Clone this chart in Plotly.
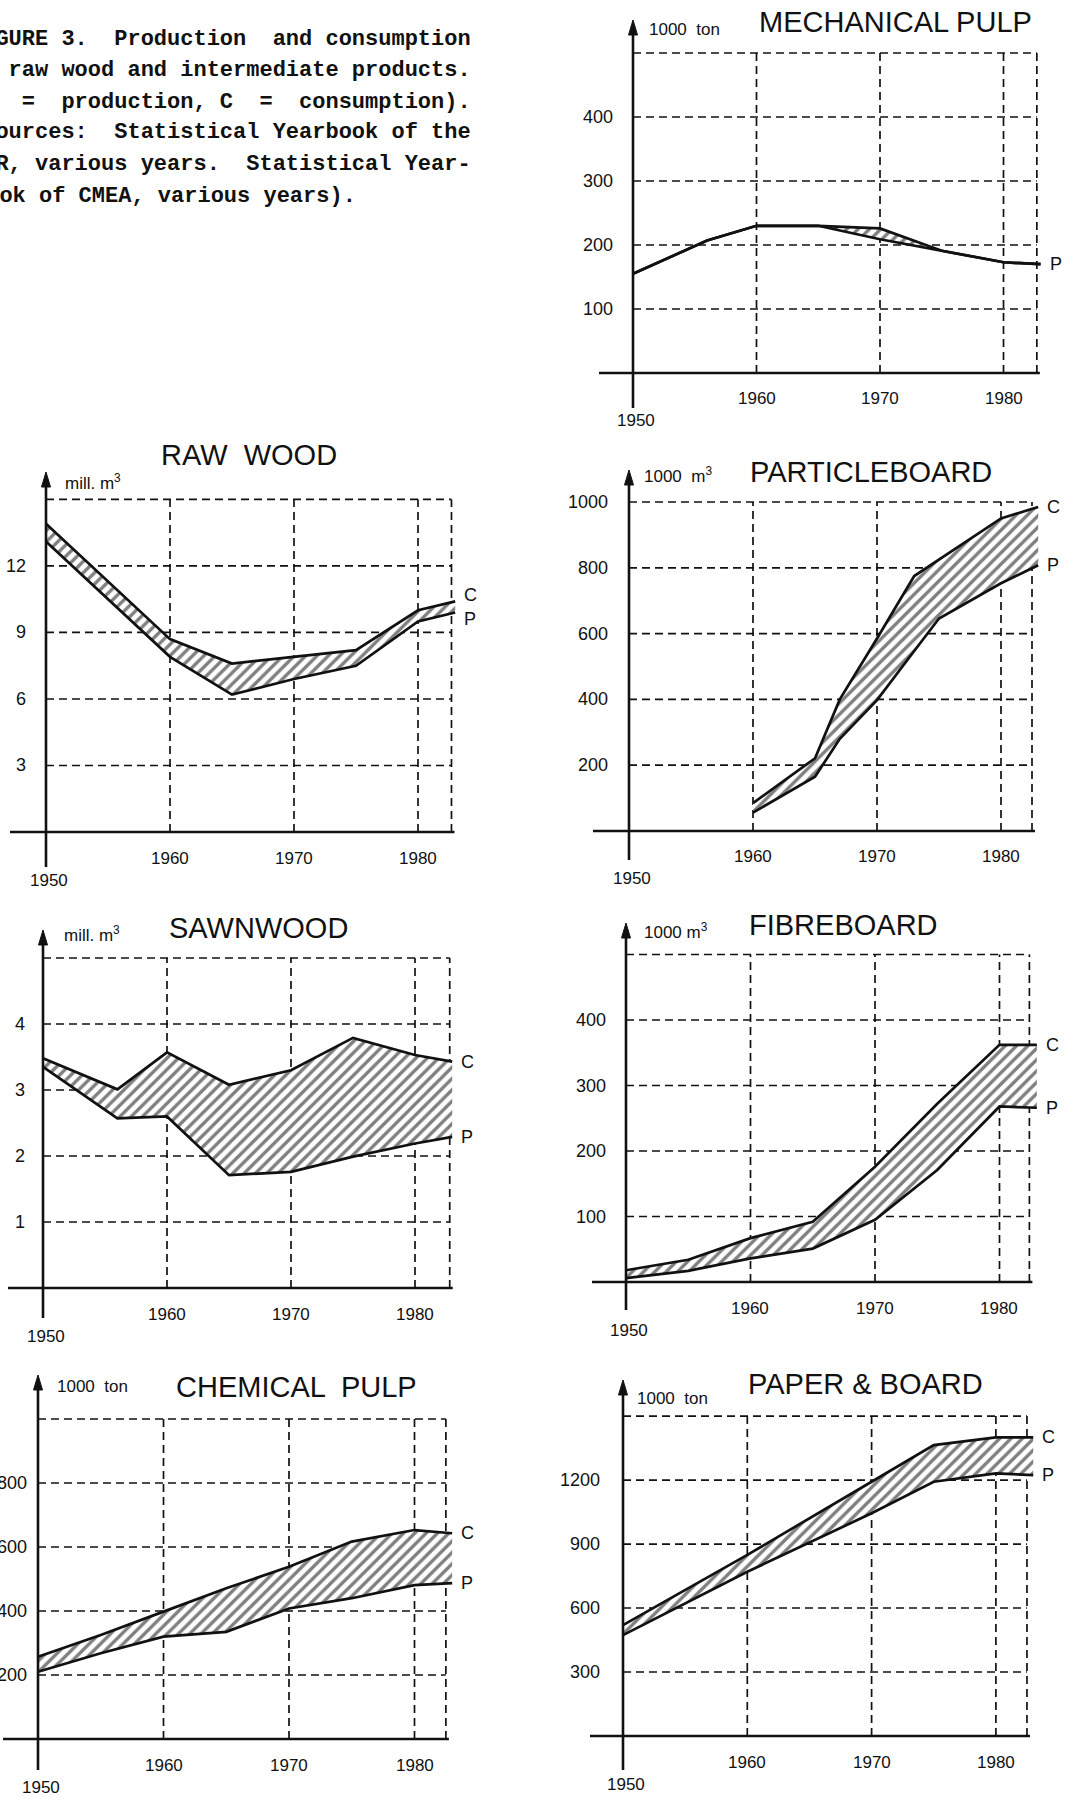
import plotly.graph_objects as go

W, H = 1081, 1798

# ---------------- data ----------------
MECH_YEARS = [1950, 1956, 1960, 1965, 1970, 1975, 1980, 1983]
MECH_P = [155, 207, 230, 230, 226, 191, 173, 170]
MECH_C = [155, 207, 230, 230, 209, 191, 173, 170]
MECH_YTICKS = [100, 200, 300, 400]

RAW_YEARS = [1950, 1960, 1965, 1970, 1975, 1980, 1983]
RAW_C = [13.9, 8.7, 7.6, 7.9, 8.2, 10.0, 10.4]
RAW_P = [13.1, 7.9, 6.2, 6.9, 7.5, 9.5, 9.9]
RAW_YTICKS = [3, 6, 9, 12]

PB_YEARS = [1960, 1965, 1967, 1970, 1973, 1975, 1980, 1983]
PB_C = [85, 221, 400, 585, 775, 825, 950, 985]
PB_P = [56, 165, 280, 398, 547, 646, 753, 808]
PB_YTICKS = [200, 400, 600, 800, 1000]

SAW_YEARS = [1950, 1956, 1960, 1965, 1970, 1975, 1980, 1983]
SAW_C = [3.48, 3.01, 3.57, 3.08, 3.30, 3.79, 3.53, 3.43]
SAW_P = [3.35, 2.57, 2.60, 1.71, 1.76, 1.99, 2.19, 2.29]
SAW_YTICKS = [1, 2, 3, 4]

FB_YEARS = [1950, 1955, 1960, 1965, 1970, 1975, 1980, 1983]
FB_C = [18, 34, 67, 92, 176, 272, 362, 362]
FB_P = [6, 17, 36, 51, 95, 171, 268, 266]
FB_YTICKS = [100, 200, 300, 400]

CP_YEARS = [1950, 1955, 1960, 1965, 1970, 1975, 1980, 1983]
CP_C = [257, 325, 398, 471, 538, 617, 653, 643]
CP_P = [210, 268, 320, 335, 408, 440, 481, 487]
CP_YTICKS = [200, 400, 600, 800]

PA_YEARS = [1950, 1960, 1970, 1975, 1980, 1983]
PA_C = [520, 849, 1192, 1364, 1400, 1400]
PA_P = [473, 770, 1044, 1192, 1231, 1223]
PA_YTICKS = [300, 600, 900, 1200]

X_TICKS = [1960, 1970, 1980]
X_FIRST = 1950

CAPTION_JUSTIFIED = [
    "FIGURE 3.  Production  and consumption",
    "of raw wood and intermediate products.",
    "(P  =  production, C  =  consumption).",
    "(Sources:  Statistical Yearbook of the",
    "GDR, various years.  Statistical Year-",
]
CAPTION_LAST = "book of CMEA, various years)."

PANELS = [
    dict(title="MECHANICAL PULP", unit="1000  ton", years=MECH_YEARS, c=MECH_C, p=MECH_P,
         yticks=MECH_YTICKS, ytop=500, labels="P"),
    dict(title="RAW  WOOD", unit="mill. m<sup>3</sup>", years=RAW_YEARS, c=RAW_C, p=RAW_P,
         yticks=RAW_YTICKS, ytop=15, labels="CP"),
    dict(title="PARTICLEBOARD", unit="1000  m<sup>3</sup>", years=PB_YEARS, c=PB_C, p=PB_P,
         yticks=PB_YTICKS, ytop=1000, labels="CP"),
    dict(title="SAWNWOOD", unit="mill. m<sup>3</sup>", years=SAW_YEARS, c=SAW_C, p=SAW_P,
         yticks=SAW_YTICKS, ytop=5, labels="CP"),
    dict(title="FIBREBOARD", unit="1000 m<sup>3</sup>", years=FB_YEARS, c=FB_C, p=FB_P,
         yticks=FB_YTICKS, ytop=500, labels="CP"),
    dict(title="CHEMICAL  PULP", unit="1000  ton", years=CP_YEARS, c=CP_C, p=CP_P,
         yticks=CP_YTICKS, ytop=1000, labels="CP"),
    dict(title="PAPER & BOARD", unit="1000  ton", years=PA_YEARS, c=PA_C, p=PA_P,
         yticks=PA_YTICKS, ytop=1500, labels="CP"),
]

# ---------------- geometry (pixels) ----------------
GEOM = [
    dict(px50=633, ppy=12.35, py0=373, ppu=0.64, xl=599, xend=1982.7, top=20, bot=408,
         tx=895, ty=22, ux=647, uy=30, gap=18, lshift={}),
    dict(px50=46, ppy=12.4, py0=832, ppu=22.17, xl=10, xend=1982.7, top=472, bot=867,
         tx=249, ty=455, ux=63, uy=482, gap=18, lshift={"C": 6, "P": -6}),
    dict(px50=629, ppy=12.4, py0=831, ppu=0.329, xl=593, xend=1982.5, top=470, bot=860,
         tx=871, ty=472, ux=642, uy=475, gap=19, lshift={}),
    dict(px50=43, ppy=12.4, py0=1288, ppu=66.0, xl=8, xend=1982.8, top=930, bot=1318,
         tx=258, ty=928, ux=62, uy=934, gap=16, lshift={}),
    dict(px50=626, ppy=12.45, py0=1282, ppu=0.655, xl=592, xend=1982.4, top=923, bot=1310,
         tx=843, ty=925, ux=642, uy=931, gap=18, lshift={}),
    dict(px50=38, ppy=12.55, py0=1739, ppu=0.32, xl=3, xend=1982.5, top=1375, bot=1770,
         tx=296, ty=1387, ux=55, uy=1386, gap=9, lshift={}),
    dict(px50=623, ppy=12.43, py0=1736, ppu=0.2133, xl=590, xend=1982.5, top=1380, bot=1770,
         tx=865, ty=1384, ux=635, uy=1398, gap=21, lshift={}),
]

SANS = "Liberation Sans"
BLACK = "#111111"
GRID_DASH = "8px,5px"

fig = go.Figure()
layout = dict(width=W, height=H, margin=dict(l=0, r=0, t=0, b=0),
              paper_bgcolor="white", plot_bgcolor="rgba(0,0,0,0)", showlegend=False)
shapes = []
annotations = []

for i, (pn, g) in enumerate(zip(PANELS, GEOM)):
    n = "" if i == 0 else str(i + 1)
    xa, ya = "x" + n, "y" + n
    # domain / range so that data coordinates land on the measured pixels
    x_lo_px = max(g["xl"] - 3, 0)
    x_hi_px = g["px50"] + (g["xend"] - 1950) * g["ppy"] + 8
    y_top_px = g["top"] - 4
    y_bot_px = g["bot"] + 4
    xr = [1950 + (x_lo_px - g["px50"]) / g["ppy"], 1950 + (x_hi_px - g["px50"]) / g["ppy"]]
    yr = [(g["py0"] - y_bot_px) / g["ppu"], (g["py0"] - y_top_px) / g["ppu"]]
    layout["xaxis" + n] = dict(domain=[x_lo_px / W, x_hi_px / W], range=xr, visible=False,
                               fixedrange=True, anchor=ya)
    layout["yaxis" + n] = dict(domain=[1 - y_bot_px / H, 1 - y_top_px / H], range=yr,
                               visible=False, fixedrange=True, anchor=xa)

    # dashed grid
    for v in pn["yticks"] + ([pn["ytop"]] if pn["ytop"] not in pn["yticks"] else []):
        shapes.append(dict(type="line", xref=xa, yref=ya, x0=X_FIRST, x1=g["xend"], y0=v, y1=v,
                           line=dict(color=BLACK, width=1.7, dash=GRID_DASH), layer="below"))
    for t in X_TICKS + [g["xend"]]:
        shapes.append(dict(type="line", xref=xa, yref=ya, x0=t, x1=t, y0=0, y1=pn["ytop"],
                           line=dict(color=BLACK, width=1.7, dash=GRID_DASH), layer="below"))
    # x axis line
    shapes.append(dict(type="line", xref=xa, yref=ya, x0=xr[0] + 3 / g["ppy"],
                       x1=g["xend"] + 3 / g["ppy"], y0=0, y1=0,
                       line=dict(color=BLACK, width=2.6), layer="above"))
    # y axis line with arrowhead
    y_top_v = (g["py0"] - g["top"]) / g["ppu"]
    y_bot_v = (g["py0"] - g["bot"]) / g["ppu"]
    shapes.append(dict(type="line", xref=xa, yref=ya, x0=X_FIRST, x1=X_FIRST,
                       y0=y_bot_v, y1=y_top_v - 8 / g["ppu"],
                       line=dict(color=BLACK, width=2.6), layer="above"))
    dx = 4.5 / g["ppy"]
    dy = 15 / g["ppu"]
    shapes.append(dict(type="path", xref=xa, yref=ya,
                       path=(f"M {X_FIRST - dx},{y_top_v - dy} L {X_FIRST},{y_top_v} "
                             f"L {X_FIRST + dx},{y_top_v - dy} Z"),
                       fillcolor=BLACK, line=dict(color=BLACK, width=1), layer="above"))

    # series: P then C filled (hatched) between them
    fig.add_trace(go.Scatter(x=pn["years"], y=pn["p"], mode="lines", xaxis=xa, yaxis=ya,
                             line=dict(color=BLACK, width=2.7), hoverinfo="skip"))
    fig.add_trace(go.Scatter(x=pn["years"], y=pn["c"], mode="lines", xaxis=xa, yaxis=ya,
                             line=dict(color=BLACK, width=2.7), fill="tonexty",
                             fillcolor="white",
                             fillpattern=dict(shape="/", fgcolor="black", bgcolor="white",
                                              size=8, solidity=0.42),
                             hoverinfo="skip"))

    # tick labels
    for v in pn["yticks"]:
        annotations.append(dict(x=X_FIRST, y=v, xref=xa, yref=ya, text=str(v), showarrow=False,
                                xanchor="right", yanchor="middle", xshift=-g["gap"],
                                font=dict(family=SANS, size=18, color=BLACK)))
    for t in X_TICKS:
        annotations.append(dict(x=t, y=0, xref=xa, yref=ya, text=str(t), showarrow=False,
                                xanchor="center", yanchor="middle", yshift=-26,
                                font=dict(family=SANS, size=17, color=BLACK)))
    annotations.append(dict(x=X_FIRST, y=0, xref=xa, yref=ya, text=str(X_FIRST), showarrow=False,
                            xanchor="center", yanchor="middle", yshift=-48, xshift=3,
                            font=dict(family=SANS, size=17, color=BLACK)))

    # title and unit
    annotations.append(dict(x=g["tx"] / W, y=1 - g["ty"] / H, xref="paper", yref="paper",
                            text=pn["title"], showarrow=False, xanchor="center", yanchor="middle",
                            font=dict(family=SANS, size=29, color=BLACK)))
    annotations.append(dict(x=g["ux"] / W, y=1 - g["uy"] / H, xref="paper", yref="paper",
                            text=pn["unit"], showarrow=False, xanchor="left", yanchor="middle",
                            font=dict(family=SANS, size=17, color=BLACK)))

    # C / P labels at line ends
    for lab in pn["labels"]:
        series = pn["c"] if lab == "C" else pn["p"]
        annotations.append(dict(x=pn["years"][-1], y=series[-1], xref=xa, yref=ya, text=lab,
                                showarrow=False, xanchor="left", yanchor="middle", xshift=7,
                                yshift=g["lshift"].get(lab, 0),
                                font=dict(family=SANS, size=18, color=BLACK)))

# caption (justified lines aligned right; last line aligned left)
CAP_RIGHT = 473
CAP_LEFT = -29
cap_y = [39, 70, 102, 133, 165, 197]
for line, yc in zip(CAPTION_JUSTIFIED, cap_y):
    annotations.append(dict(x=CAP_RIGHT / W, y=1 - yc / H, xref="paper", yref="paper",
                            text=line, showarrow=False, xanchor="right", yanchor="middle",
                            font=dict(family="Liberation Mono", size=22, color=BLACK,
                                      weight="bold")))
annotations.append(dict(x=CAP_LEFT / W, y=1 - cap_y[-1] / H, xref="paper", yref="paper",
                        text=CAPTION_LAST, showarrow=False, xanchor="left", yanchor="middle",
                        font=dict(family="Liberation Mono", size=22, color=BLACK, weight="bold")))

layout["shapes"] = shapes
layout["annotations"] = annotations
fig.update_layout(**layout)
fig.write_html("out.html")
